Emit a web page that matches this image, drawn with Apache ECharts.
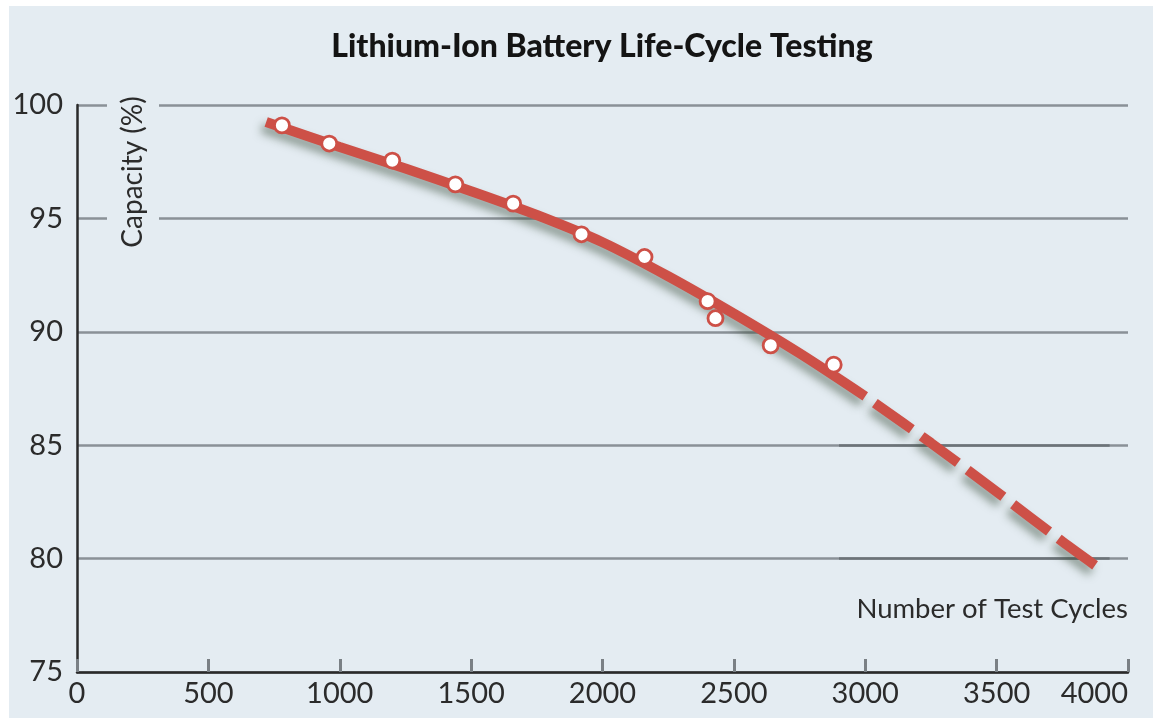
<!DOCTYPE html>
<html>
<head>
<meta charset="utf-8">
<script src="https://cdn.jsdelivr.net/npm/echarts@6/dist/echarts.min.js"></script>
<style>
  html, body { margin: 0; padding: 0; background: #ffffff; width: 1153px; height: 718px; overflow: hidden; }
  #chart { position: absolute; left: 9px; top: 6px; width: 1144px; height: 712px; background: #e4ecf2; }
</style>
</head>
<body>
<div id="chart"></div>
<script>
// Text
const chartTitle = 'Lithium-Ion Battery Life-Cycle Testing';
const xAxisName = 'Number of Test Cycles';
const yAxisName = 'Capacity (%)';

// Axis ranges (cycles, capacity %)
const xRange = [0, 4000];
const xStep = 500;
const yRange = [75, 100];
const yStep = 5;

// Measured capacity after N test cycles: [cycles, capacity %]
const measuredPoints = [
  [780, 99.1], [960, 98.3], [1200, 97.55], [1440, 96.5], [1660, 95.65],
  [1920, 94.3], [2160, 93.3], [2400, 91.35], [2430, 90.6], [2640, 89.4],
  [2880, 88.55]
];

// Trend through the measurements (solid), then its projection (dashed)
const trendCurve = [
  [720, 99.25], [1000, 98.15], [1250, 97.2], [1500, 96.2], [1750, 95.15],
  [2000, 93.95], [2250, 92.45], [2500, 90.8], [2750, 89.05], [3000, 87.15]
];
const projectedCurve = [
  [3000, 87.15], [3250, 85.1], [3500, 82.95], [3750, 80.75], [3875, 79.7]
];

// Darker stretch of the 85 % and 80 % reference lines (cycles span)
const emphasisSpan = [2900, 3930];
const emphasisLevels = [85, 80];

const RED = '#cd5047';
const BG = '#e4ecf2';
const TEXT = '#2b2b2b';
const FONT = 'Lato, "Noto Sans", sans-serif';

const lineShadow = {
  shadowColor: 'rgba(55, 75, 55, 0.5)',
  shadowBlur: 8,
  shadowOffsetX: -4,
  shadowOffsetY: 6
};

const chart = echarts.init(document.getElementById('chart'), null, { renderer: 'canvas' });

chart.setOption({
  animation: false,
  backgroundColor: BG,
  title: {
    text: chartTitle,
    left: 588,
    top: 20,
    textAlign: 'center',
    textStyle: { fontFamily: FONT, fontWeight: 900, fontSize: 32, color: '#141414' }
  },
  grid: { left: 68, top: 99, right: 25, bottom: 46, containLabel: false },
  xAxis: {
    type: 'value',
    min: xRange[0], max: xRange[1], interval: xStep,
    axisLine: { show: true, onZero: false, lineStyle: { color: '#2a2a2a', width: 2.5 } },
    axisTick: { show: true, inside: true, length: 13, lineStyle: { color: '#7a8085', width: 3 } },
    axisLabel: {
      fontFamily: FONT, fontSize: 29, color: TEXT, margin: 7, alignMaxLabel: 'right',
      formatter: v => String(v)
    },
    splitLine: { show: false }
  },
  yAxis: {
    type: 'value',
    min: yRange[0], max: yRange[1], interval: yStep,
    axisLine: { show: true, onZero: false, lineStyle: { color: '#2a2a2a', width: 2.5 } },
    axisTick: { show: false },
    axisLabel: { fontFamily: FONT, fontSize: 29, color: TEXT, margin: 14, formatter: v => String(v) },
    splitLine: { show: true, lineStyle: { color: '#8a9197', width: 2.5 } }
  },
  graphic: [
    {
      type: 'text',
      x: 124, y: 166,
      rotation: Math.PI / 2,
      z: 50,
      style: {
        text: yAxisName,
        font: '28px ' + FONT,
        fill: TEXT,
        align: 'center',
        verticalAlign: 'middle',
        backgroundColor: BG,
        padding: [12, 4, 12, 4]
      }
    },
    {
      type: 'text',
      right: 25, top: 589,
      z: 50,
      style: { text: xAxisName, font: '27.5px ' + FONT, fill: TEXT }
    }
  ],
  series: [
    {
      type: 'line',
      data: trendCurve,
      smooth: 0.3,
      showSymbol: false,
      z: 3,
      lineStyle: Object.assign({ color: RED, width: 10, cap: 'butt' }, lineShadow),
      markLine: {
        silent: true,
        symbol: 'none',
        z: 1,
        label: { show: false },
        lineStyle: { color: '#6c7378', width: 2.5, type: 'solid' },
        data: emphasisLevels.map(level => [
          { coord: [emphasisSpan[0], level] },
          { coord: [emphasisSpan[1], level] }
        ])
      }
    },
    {
      type: 'line',
      data: projectedCurve,
      smooth: 0.3,
      showSymbol: false,
      z: 3,
      lineStyle: Object.assign({
        color: RED, width: 10, cap: 'butt',
        type: [45, 12], dashOffset: 45
      }, lineShadow)
    },
    {
      type: 'scatter',
      data: measuredPoints,
      symbol: 'circle',
      symbolSize: 15,
      z: 5,
      itemStyle: { color: '#ffffff', borderColor: RED, borderWidth: 2.8, opacity: 1 }
    }
  ]
});
</script>
</body>
</html>
